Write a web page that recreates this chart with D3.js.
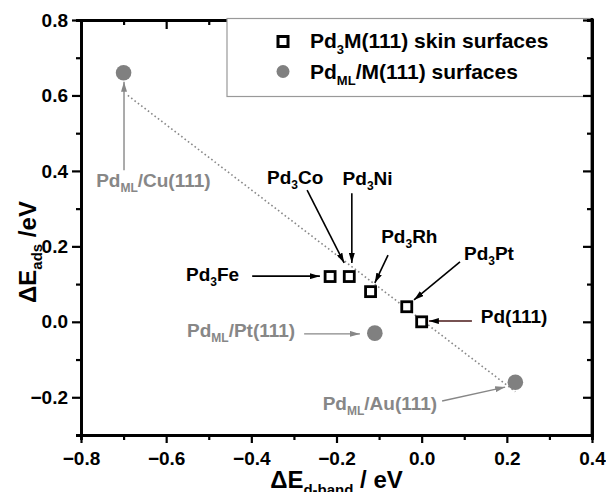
<!DOCTYPE html>
<html><head><meta charset="utf-8">
<script src="https://cdn.jsdelivr.net/npm/d3@7"></script>
<style>
body{margin:0;background:#fff}
text{font-family:Arial,"Liberation Sans",sans-serif;font-weight:bold}
</style>
</head><body>
<svg id="c" width="606" height="492"></svg>
<script>
// ---- data ----
const xTicks=[-0.8,-0.6,-0.4,-0.2,0.0,0.2,0.4];
const xMinor=[-0.7,-0.5,-0.3,-0.1,0.1,0.3];
const yTicks=[-0.2,0.0,0.2,0.4,0.6,0.8];
const yMinor=[-0.1,0.1,0.3,0.5,0.7];

const skinNames=["Pd3Fe","Pd3Co/Pd3Ni","Pd3Rh","Pd3Pt","Pd(111)"];
const skinDband=[-0.215,-0.17,-0.12,-0.035,0.0];
const skinDEads=[0.12,0.12,0.08,0.04,0.0];

const mlNames=["Pd_ML/Cu(111)","Pd_ML/Pt(111)","Pd_ML/Au(111)"];
const mlDband=[-0.70,-0.11,0.22];
const mlDEads=[0.66,-0.03,-0.16];

const fitX=[-0.69,0.22];
const fitY=[0.60,-0.185];

const annLabels=["Pd_{3}Fe","Pd_{3}Co","Pd_{3}Ni","Pd_{3}Rh","Pd_{3}Pt","Pd(111)","Pd_{ML}/Cu(111)","Pd_{ML}/Pt(111)","Pd_{ML}/Au(111)"];
const annKind=["skin","skin","skin","skin","skin","pd","ml","ml","ml"];
const annLabelX=[-0.491,-0.297,-0.127,-0.029,0.158,0.217,-0.630,-0.424,-0.098];
const annLabelY=[0.126,0.384,0.381,0.227,0.182,0.015,0.376,-0.022,-0.215];
const annFromX=[-0.398,-0.269,-0.164,-0.079,0.090,0.118,-0.699,-0.276,0.048];
const annFromY=[0.121,0.349,0.341,0.177,0.159,0.002,0.402,-0.032,-0.210];
const annToX=[-0.239,-0.182,-0.164,-0.110,-0.018,0.017,-0.699,-0.145,0.196];
const annToY=[0.121,0.156,0.156,0.103,0.058,0.002,0.636,-0.032,-0.173];

const legendLabels=["Pd_{3}M(111) skin surfaces","Pd_{ML}/M(111) surfaces"];

// ---- layout ----
const svg=d3.select("#c");
const L=81,R=592,T=20,B=435;
const x=d3.scaleLinear().domain([-0.8,0.4]).range([L,R]);
const y=d3.scaleLinear().domain([-0.3,0.8]).range([B,T]);
const GRAY="#878787", DOT="#808080";

svg.append("rect").attr("width",606).attr("height",492).attr("fill","#fff");

function rich(sel,str,size,sub,shift){
  sel.attr("font-size",size);
  const parts=str.split(/(_\{[^}]*\})/).filter(s=>s.length);
  let pend=0;
  parts.forEach(p=>{
    if(p.startsWith("_{")){
      sel.append("tspan").attr("font-size",sub).attr("dy",shift).text(p.slice(2,-1));
      pend=-shift;
    } else {
      sel.append("tspan").attr("font-size",size).attr("dy",pend).text(p);
      pend=0;
    }
  });
  return sel;
}

function styleAxis(g){
  g.select(".domain").attr("stroke","#000").attr("stroke-width",2.8);
  g.selectAll(".tick line").attr("stroke","#000").attr("stroke-width",2.2);
  g.selectAll(".tick text").attr("fill","#000").attr("font-size",19)
   .attr("font-family","Arial, 'Liberation Sans', sans-serif").attr("font-weight","bold");
}

// minor ticks
svg.append("g").attr("transform",`translate(0,${B})`)
  .call(d3.axisBottom(x).tickValues(xMinor).tickSize(5).tickFormat(""))
  .call(styleAxis);
svg.append("g").attr("transform",`translate(${L},0)`)
  .call(d3.axisLeft(y).tickValues(yMinor).tickSize(5).tickFormat(""))
  .call(styleAxis);
svg.append("g").attr("transform",`translate(0,${T})`)
  .call(d3.axisTop(x).tickValues(xMinor).tickSize(-5).tickFormat(""))
  .call(styleAxis);
svg.append("g").attr("transform",`translate(0,${T})`)
  .call(d3.axisTop(x).tickValues(xTicks).tickSize(-9).tickSizeOuter(0).tickFormat(""))
  .call(styleAxis);

// major axes
svg.append("g").attr("transform",`translate(0,${B})`)
  .call(d3.axisBottom(x).tickValues(xTicks).tickSize(8).tickPadding(9).tickSizeOuter(0).tickFormat(d3.format(".1f")))
  .call(styleAxis);
svg.append("g").attr("transform",`translate(${L},0)`)
  .call(d3.axisLeft(y).tickValues(yTicks).tickSize(9).tickPadding(4).tickSizeOuter(0).tickFormat(d3.format(".1f")))
  .call(styleAxis);

// legend
const lg=svg.append("g");
lg.append("rect").attr("x",227).attr("y",18.5).attr("width",R-227).attr("height",78)
  .attr("fill","#fff").attr("stroke","#999").attr("stroke-width",1.2);
lg.append("rect").attr("x",283-5).attr("y",41.5-5).attr("width",10).attr("height",10)
  .attr("fill","#fff").attr("stroke","#000").attr("stroke-width",3);
lg.append("circle").attr("cx",283).attr("cy",71.5).attr("r",6.5).attr("fill",DOT);
legendLabels.forEach((s,i)=>{
  rich(lg.append("text").attr("x",310).attr("y",i?78.5:47.5).attr("fill","#000"),s,21,13,6);
});

// right axis (on top of legend)
svg.append("g").attr("transform",`translate(${R},0)`)
  .call(d3.axisRight(y).tickValues(yMinor).tickSize(-5).tickFormat(""))
  .call(styleAxis);
svg.append("g").attr("transform",`translate(${R},0)`)
  .call(d3.axisRight(y).tickValues(yTicks).tickSize(-9).tickSizeOuter(0).tickFormat(""))
  .call(styleAxis);
svg.append("line").attr("x1",R).attr("x2",R).attr("y1",T-2).attr("y2",B+1.4)
  .attr("stroke","#000").attr("stroke-width",2.8);

// fit line
svg.append("line").attr("x1",x(fitX[0])).attr("y1",y(fitY[0]))
  .attr("x2",x(fitX[1])).attr("y2",y(fitY[1]))
  .attr("stroke","#888").attr("stroke-width",1.6).attr("stroke-dasharray","1.6,2.6");

// markers for arrows
const defs=svg.append("defs");
function mk(id,col){
  defs.append("marker").attr("id",id).attr("viewBox","0 0 10 6").attr("refX",10).attr("refY",3)
    .attr("markerUnits","userSpaceOnUse").attr("markerWidth",10).attr("markerHeight",6).attr("orient","auto")
    .append("path").attr("d","M0,0L10,3L0,6Z").attr("fill",col);
}
mk("ab","#000"); mk("ag",GRAY);

// annotations
annLabels.forEach((s,i)=>{
  const k=annKind[i];
  const col=k==="ml"?GRAY:"#000";
  const lcol=k==="ml"?GRAY:(k==="pd"?"#4a1818":"#000");
  svg.append("line").attr("x1",x(annFromX[i])).attr("y1",y(annFromY[i]))
    .attr("x2",x(annToX[i])).attr("y2",y(annToY[i]))
    .attr("stroke",lcol).attr("stroke-width",k==="ml"?1.4:1.6)
    .attr("marker-end",k==="ml"?"url(#ag)":"url(#ab)");
  rich(svg.append("text").attr("x",x(annLabelX[i])).attr("y",y(annLabelY[i])+6.8)
    .attr("text-anchor","middle").attr("fill",col),s,19,12,5);
});

// data points
svg.append("g").selectAll("circle").data(mlDband).join("circle")
  .attr("cx",d=>x(d)).attr("cy",(d,i)=>y(mlDEads[i])).attr("r",7.8).attr("fill",DOT);
svg.append("g").selectAll("rect").data(skinDband).join("rect")
  .attr("x",d=>x(d)-5).attr("y",(d,i)=>y(skinDEads[i])-5).attr("width",10).attr("height",10)
  .attr("fill","#fff").attr("stroke","#000").attr("stroke-width",2.8);

// axis titles
rich(svg.append("text").attr("x",(L+R)/2).attr("y",488).attr("text-anchor","middle").attr("fill","#000"),
  "\u0394E_{d-band} / eV",24,15,7);
rich(svg.append("text").attr("transform","translate(36,252) rotate(-90)").attr("text-anchor","middle").attr("fill","#000"),
  "\u0394E_{ads} /eV",24,15,6);
</script>
</body></html>
